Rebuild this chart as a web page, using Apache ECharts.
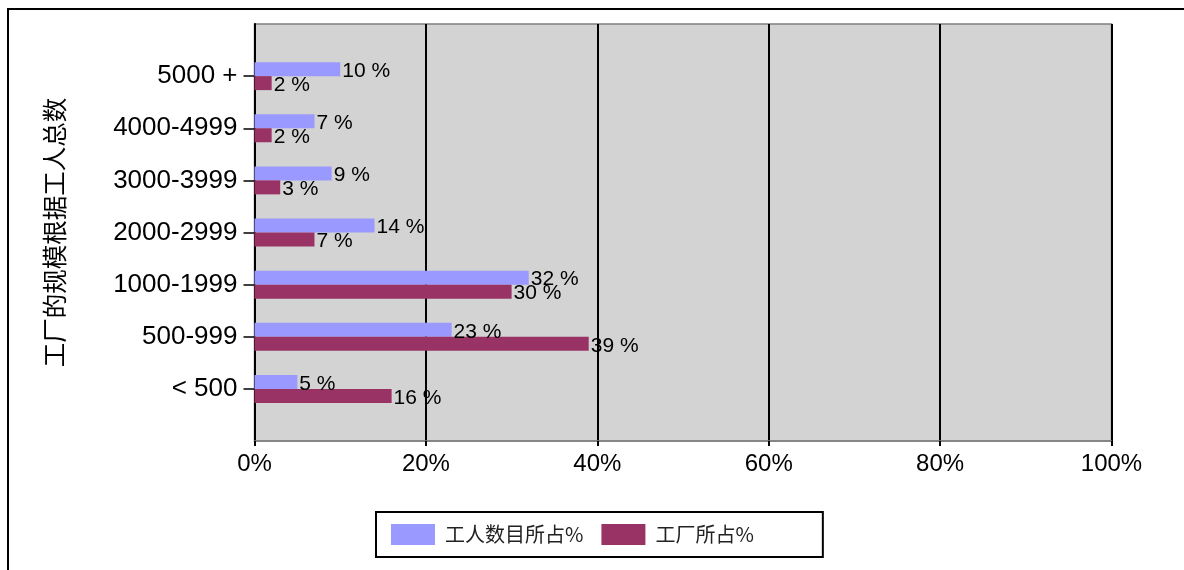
<!DOCTYPE html>
<html>
<head>
<meta charset="utf-8">
<script src="https://cdn.jsdelivr.net/npm/echarts@6/dist/echarts.min.js"></script>
<style>
html,body{margin:0;padding:0;background:#fff;overflow:hidden;}
#frame{position:absolute;left:7px;top:8px;width:1400px;height:800px;border:2px solid #000;box-sizing:border-box;pointer-events:none;z-index:2;}
#chart{position:absolute;left:0;top:0;width:1184px;height:570px;}
</style>
</head>
<body>
<div id="chart"></div>
<div id="frame"></div>
<script>
// Data (top to bottom as shown)
const categories = ['5000 +', '4000-4999', '3000-3999', '2000-2999', '1000-1999', '500-999', '< 500'];
const workersShare = [10, 7, 9, 14, 32, 23, 5];
const factoriesShare = [2, 2, 3, 7, 30, 39, 16];
const xTicks = [0, 20, 40, 60, 80, 100];
const seriesNames = ['工人数目所占%', '工厂所占%'];
const yTitle = '工厂的规模根据工人总数';

const FONT = '"Liberation Sans", Arial, sans-serif';
const CJK = '"Noto Sans CJK SC", sans-serif';

const plotLeft = 254.5, plotTop = 24, plotW = 857, plotH = 417;
const band = plotH / (categories.length + 1);

const chart = echarts.init(document.getElementById('chart'), null, {renderer: 'canvas'});
chart.setOption({
  animation: false,
  backgroundColor: '#fff',
  grid: [
    {left: plotLeft, top: plotTop, width: plotW, height: plotH, show: true,
     backgroundColor: '#d3d3d3', borderColor: '#808080', borderWidth: 1.5},
    {left: plotLeft, top: plotTop + band / 2, width: plotW, height: band * categories.length}
  ],
  xAxis: [
    {type: 'value', gridIndex: 0, min: xTicks[0], max: xTicks[xTicks.length - 1], interval: 20,
     axisLine: {show: true, lineStyle: {color: '#808080', width: 1.5}},
     axisTick: {show: true, length: 5, lineStyle: {color: '#000', width: 2}},
     splitLine: {show: true, lineStyle: {color: '#000', width: 2}},
     axisLabel: {formatter: '{value}%', fontSize: 24, color: '#000', fontFamily: FONT, margin: 11}},
    {type: 'value', gridIndex: 1, min: 0, max: 100, show: false}
  ],
  yAxis: [
    {type: 'value', gridIndex: 0, min: 0, max: 1,
     axisLine: {show: true, onZero: false, lineStyle: {color: '#000', width: 2}},
     axisTick: {show: false}, axisLabel: {show: false}, splitLine: {show: false}},
    {type: 'category', gridIndex: 1, data: categories, inverse: true,
     axisLine: {show: false},
     axisTick: {show: true, alignWithLabel: true, length: 11, lineStyle: {color: '#000', width: 1.5}},
     axisLabel: {fontSize: 26, color: '#000', fontFamily: FONT, margin: 17, padding: [4, 0, 0, 0]},
     name: yTitle, nameLocation: 'middle', nameRotate: 90, nameGap: 188,
     nameTextStyle: {fontSize: 24.5, color: '#000', fontFamily: CJK}}
  ],
  legend: {
    left: 376, top: 512,
    padding: [12, 69, 12, 15],
    borderColor: '#000', borderWidth: 2,
    itemWidth: 44, itemHeight: 21, itemGap: 18,
    icon: 'rect',
    textStyle: {fontSize: 20, color: '#222', fontFamily: CJK, padding: [0, 0, 0, 5]},
    data: seriesNames
  },
  series: [
    {name: seriesNames[0], type: 'bar', xAxisIndex: 1, yAxisIndex: 1, data: workersShare,
     barWidth: 14, barGap: '0%', itemStyle: {color: '#9999ff'},
     label: {show: true, position: 'right', distance: 2, offset: [0, 2], formatter: '{c} %', fontSize: 21, color: '#000', fontFamily: FONT}},
    {name: seriesNames[1], type: 'bar', xAxisIndex: 1, yAxisIndex: 1, data: factoriesShare,
     barWidth: 14, barGap: '0%', itemStyle: {color: '#993366'},
     label: {show: true, position: 'right', distance: 2, offset: [0, 2], formatter: '{c} %', fontSize: 21, color: '#000', fontFamily: FONT}}
  ]
});
</script>
</body>
</html>
